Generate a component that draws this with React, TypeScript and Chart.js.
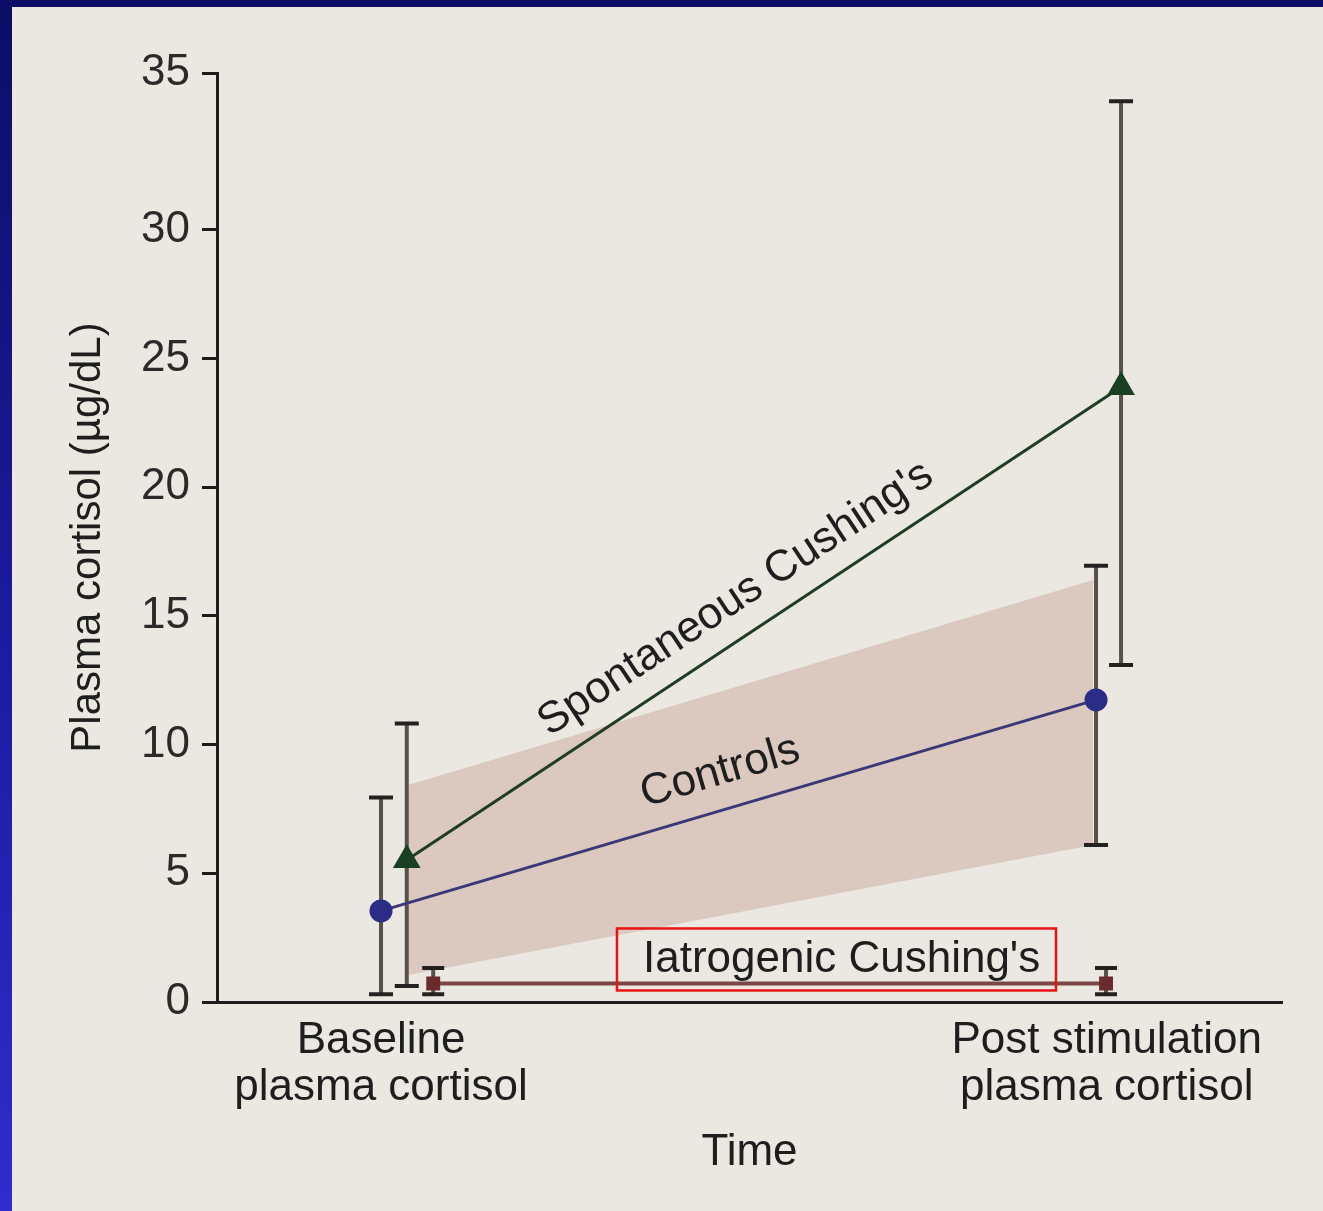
import React, { useEffect, useRef } from "react";
import { Chart, registerables } from "chart.js";

Chart.register(...registerables);

const FONT = "'Liberation Sans', Arial, Helvetica, sans-serif";

// Axis ticks
const xTickLabels = [["Baseline", "plasma cortisol"], ["Post stimulation", "plasma cortisol"]];
const xTickPositions = [0, 1.015];
const yTickValues = [0, 5, 10, 15, 20, 25, 30, 36.1];
const yTickLabels = ["0", "5", "10", "15", "20", "25", "30", "35"];

// Controls (mean, error bar)
const controlsX = [0, 1];
const controlsMean = [3.54, 11.74];
const controlsLow = [0.3, 6.1];
const controlsHigh = [7.95, 16.95];

// Spontaneous Cushing's
const spontX = [0.036, 1.035];
const spontMean = [5.52, 23.9];
const spontLow = [0.62, 13.1];
const spontHigh = [10.82, 35.0];

// Iatrogenic Cushing's
const iatroX = [0.073, 1.014];
const iatroMean = [0.72, 0.72];
const iatroLow = [0.3, 0.3];
const iatroHigh = [1.32, 1.32];

// Normal range band
const bandX = [0.038, 0.996];
const bandLow = [1.05, 6.1];
const bandHigh = [8.43, 16.4];

const pts = (xs: number[], ys: number[]) => xs.map((x, i) => ({ x, y: ys[i] }));

const errorBarPlugin = {
  id: "errorBars",
  beforeDatasetDraw(chart: any, args: any) {
    if (args.index !== 2) return;
    const { ctx, scales } = chart;
    const xs = scales.x;
    const ys = scales.y;
    const groups = [
      { x: controlsX, lo: controlsLow, hi: controlsHigh, cap: 12 },
      { x: spontX, lo: spontLow, hi: spontHigh, cap: 12 },
      { x: iatroX, lo: iatroLow, hi: iatroHigh, cap: 11 },
    ];
    ctx.save();
    groups.forEach((g) => {
      g.x.forEach((xv, i) => {
        const px = xs.getPixelForValue(xv);
        const pl = ys.getPixelForValue(g.lo[i]);
        const ph = ys.getPixelForValue(g.hi[i]);
        ctx.strokeStyle = "#57514a";
        ctx.lineWidth = 4;
        ctx.beginPath();
        ctx.moveTo(px, pl);
        ctx.lineTo(px, ph);
        ctx.stroke();
        ctx.strokeStyle = "#242220";
        ctx.lineWidth = 4;
        ctx.beginPath();
        ctx.moveTo(px - g.cap, pl);
        ctx.lineTo(px + g.cap, pl);
        ctx.moveTo(px - g.cap, ph);
        ctx.lineTo(px + g.cap, ph);
        ctx.stroke();
      });
    });
    ctx.restore();
  },
};

const labelPlugin = {
  id: "inlineLabels",
  afterDatasetsDraw(chart: any) {
    const { ctx, scales } = chart;
    const xs = scales.x;
    const ys = scales.y;
    ctx.save();
    ctx.font = `44px ${FONT}`;
    ctx.fillStyle = "#1e1e1e";
    const drawAlong = (xv: number[], yv: number[], t: number, off: number, text: string) => {
      const x0 = xs.getPixelForValue(xv[0]);
      const y0 = ys.getPixelForValue(yv[0]);
      const x1 = xs.getPixelForValue(xv[1]);
      const y1 = ys.getPixelForValue(yv[1]);
      const a = Math.atan2(y1 - y0, x1 - x0);
      ctx.save();
      ctx.translate(x0 + (x1 - x0) * t, y0 + (y1 - y0) * t);
      ctx.rotate(a);
      ctx.textAlign = "left";
      ctx.textBaseline = "alphabetic";
      ctx.fillText(text, 0, -off);
      ctx.restore();
    };
    drawAlong(spontX, spontMean, 0.218, 24, "Spontaneous Cushing's");
    drawAlong(controlsX, controlsMean, 0.379, 25, "Controls");

    const lineY = ys.getPixelForValue(iatroMean[0]);
    const left = xs.getPixelForValue(0.33);
    const right = xs.getPixelForValue(0.944);
    const bottom = lineY + 7;
    const top = bottom - 62;
    ctx.textAlign = "left";
    ctx.textBaseline = "alphabetic";
    ctx.fillText("Iatrogenic Cushing's", left + 26, bottom - 18);
    ctx.strokeStyle = "#e81414";
    ctx.lineWidth = 2.5;
    ctx.strokeRect(left, top, right - left, bottom - top);
    ctx.restore();
  },
};

export default function App() {
  const ref = useRef<HTMLCanvasElement>(null);

  useEffect(() => {
    const canvas = ref.current;
    if (!canvas) return;
    const chart = new Chart(canvas, {
      type: "line",
      data: {
        datasets: [
          {
            label: "Iatrogenic Cushing's",
            data: pts(iatroX, iatroMean),
            borderColor: "#7a4646",
            borderWidth: 4,
            pointStyle: "rect",
            pointRadius: 7,
            pointBackgroundColor: "#6a2b2e",
            pointBorderColor: "#6a2b2e",
            fill: false,
          },
          {
            label: "Controls",
            data: pts(controlsX, controlsMean),
            borderColor: "#3b3879",
            borderWidth: 3,
            pointStyle: "circle",
            pointRadius: 10,
            pointBackgroundColor: "#2b2d86",
            pointBorderColor: "#2b2d86",
            fill: false,
          },
          {
            label: "Spontaneous Cushing's",
            data: pts(spontX, spontMean),
            borderColor: "#1f3d24",
            borderWidth: 3,
            pointStyle: "triangle",
            pointRadius: 13,
            pointBackgroundColor: "#1a4024",
            pointBorderColor: "#1a4024",
            fill: false,
          },
          {
            label: "Range low",
            data: pts(bandX, bandLow),
            borderWidth: 0,
            borderColor: "rgba(0,0,0,0)",
            pointRadius: 0,
            fill: false,
          },
          {
            label: "Range high",
            data: pts(bandX, bandHigh),
            borderWidth: 0,
            borderColor: "rgba(0,0,0,0)",
            pointRadius: 0,
            backgroundColor: "#dbc9bf",
            fill: "-1",
          },
        ],
      },
      options: {
        animation: false,
        responsive: false,
        maintainAspectRatio: false,
        devicePixelRatio: 1,
        layout: { padding: { left: 0, right: 41, top: 66, bottom: 0 } },
        plugins: {
          legend: { display: false },
          tooltip: { enabled: false },
        },
        scales: {
          x: {
            type: "linear",
            min: -0.2294,
            max: 1.2601,
            grid: { drawOnChartArea: false, drawTicks: false },
            border: { display: true, color: "#1c1c1c", width: 3 },
            afterBuildTicks: (s: any) => {
              s.ticks = xTickPositions.map((v) => ({ value: v }));
            },
            afterFit: (s: any) => {
              s.height = 209;
            },
            ticks: {
              autoSkip: false,
              maxRotation: 0,
              minRotation: 0,
              padding: 15,
              color: "#1e1e1e",
              font: { size: 44, family: FONT, lineHeight: 1.07 },
              callback: (_v: any, i: number) => xTickLabels[i],
            },
            title: {
              display: true,
              text: "Time",
              color: "#1e1e1e",
              font: { size: 44, family: FONT, lineHeight: 1.2 },
              padding: { top: 0, bottom: 32 },
            },
          },
          y: {
            type: "linear",
            min: 0,
            max: 36.1,
            grid: {
              drawOnChartArea: false,
              drawTicks: true,
              tickLength: 15,
              tickWidth: 3,
              tickColor: "#1c1c1c",
            },
            border: { display: true, color: "#1c1c1c", width: 3 },
            afterBuildTicks: (s: any) => {
              s.ticks = yTickValues.map((v) => ({ value: v }));
            },
            afterFit: (s: any) => {
              s.width = 205;
            },
            ticks: {
              autoSkip: false,
              padding: 12,
              color: "#2a2a2a",
              font: { size: 44, family: FONT },
              callback: (_v: any, i: number) => yTickLabels[i],
            },
            title: {
              display: true,
              text: "Plasma cortisol (µg/dL)",
              color: "#1e1e1e",
              font: { size: 42, family: FONT, lineHeight: 1.2 },
              padding: { top: 51, bottom: 0 },
            },
          },
        },
      },
      plugins: [errorBarPlugin, labelPlugin],
    } as any);
    return () => chart.destroy();
  }, []);

  return (
    <div
      style={{
        position: "absolute",
        left: 0,
        top: 0,
        width: 1323,
        height: 1211,
        overflow: "hidden",
        background: "linear-gradient(180deg, #0c0d66 0%, #1d1ba3 55%, #2f2dcc 100%)",
      }}
    >
      <div
        style={{
          position: "absolute",
          left: 12,
          top: 7,
          width: 1311,
          height: 1204,
          background: "#ebe8e1",
        }}
      >
        <canvas ref={ref} width={1311} height={1204} style={{ display: "block", width: 1311, height: 1204 }} />
      </div>
    </div>
  );
}
